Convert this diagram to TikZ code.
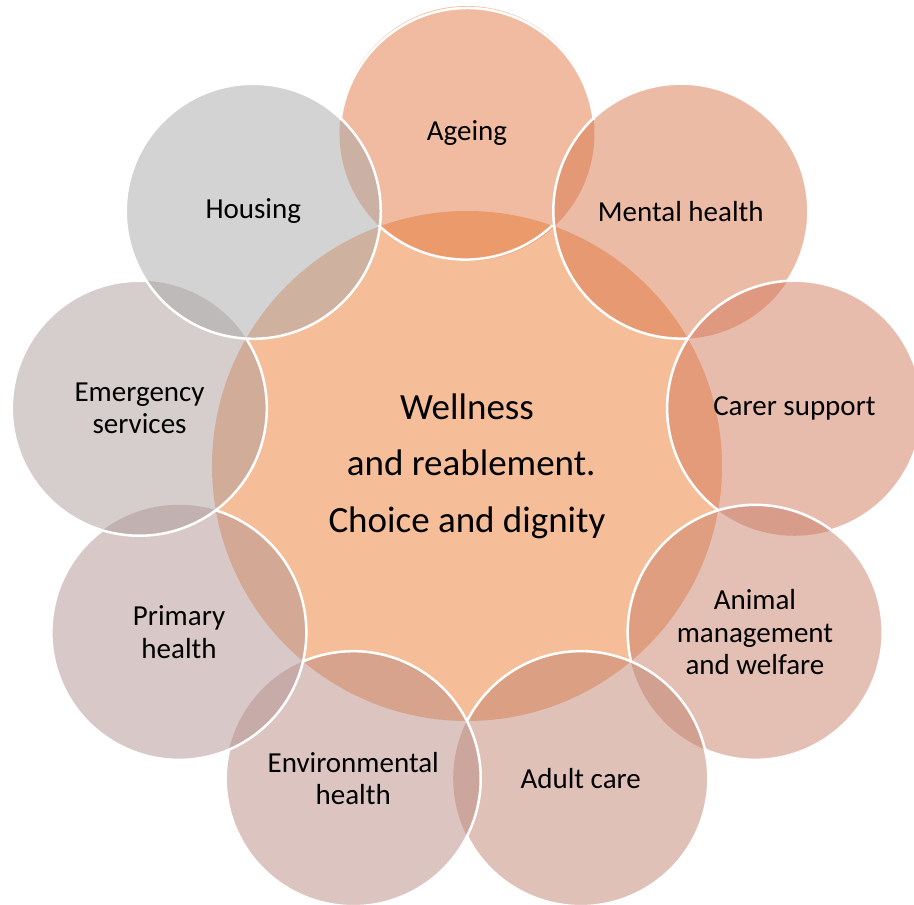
\documentclass[tikz,border=0pt]{standalone}
\usepackage{fontspec}
\setmainfont{Carlito}

\definecolor{hubfill}{RGB}{237,125,49}
\definecolor{petalA}{RGB}{225,119,65}
\definecolor{petalB}{RGB}{217,119,77}
\definecolor{petalC}{RGB}{209,121,91}
\definecolor{petalD}{RGB}{201,127,103}
\definecolor{petalE}{RGB}{193,131,113}
\definecolor{petalF}{RGB}{185,137,129}
\definecolor{petalG}{RGB}{177,147,145}
\definecolor{petalH}{RGB}{173,155,155}
\definecolor{petalI}{RGB}{167,167,167}

\begin{document}
\begin{tikzpicture}
	[
		x=1pt, y=1pt,
		hub/.style={circle, minimum size=510pt, inner sep=0pt, outer sep=0pt, fill=hubfill, fill opacity=0.5, text opacity=1, align=center, font=\fontsize{37}{56.5}\selectfont},
		petal/.style={circle, minimum size=255pt, inner sep=0pt, outer sep=0pt, fill opacity=0.5, text opacity=1, align=center, font=\fontsize{29}{32.5}\selectfont},
		rim/.style={draw=white, line width=2.5pt}
	]

	\useasboundingbox (-467,-439) rectangle (447,466);

	\node (wellness)  at (0,0)        [hub] {Wellness\\ ~and reablement.\\ Choice and dignity};

	\node (ageing)    at (90:332.5)   [petal, fill=petalA] {Ageing};
	\node (mental)    at (50:332.5)   [petal, fill=petalB] {Mental health};
	\node (carer)     at (10:332.5)   [petal, fill=petalC] {Carer support};
	\node (animal)    at (-30:332.5)  [petal, fill=petalD] {Animal\\ management\\ and welfare};
	\node (adult)     at (-70:332.5)  [petal, fill=petalE] {Adult care};
	\node (environ)   at (-110:332.5) [petal, fill=petalF] {Environmental\\ health};
	\node (primary)   at (-150:332.5) [petal, fill=petalG] {Primary\\ health};
	\node (emergency) at (-190:332.5) [petal, fill=petalH] {Emergency\\ services};
	\node (housing)   at (-230:332.5) [petal, fill=petalI] {Housing};

	\draw [rim] (ageing.6.9)
		arc [start angle=6.9, end angle=173.1, radius=127.5];
	\draw [rim] (ageing.226.9)
		arc [start angle=226.9, end angle=313.1, radius=127.5];
	\draw [rim] (mental.-33.1)
		arc [start angle=-33.1, end angle=273.1, radius=127.5];
	\draw [rim] (carer.-73.1)
		arc [start angle=-73.1, end angle=233.1, radius=127.5];
	\draw [rim] (animal.-113.1)
		arc [start angle=-113.1, end angle=193.1, radius=127.5];
	\draw [rim] (adult.-153.1)
		arc [start angle=-153.1, end angle=153.1, radius=127.5];
	\draw [rim] (environ.-193.1)
		arc [start angle=-193.1, end angle=113.1, radius=127.5];
	\draw [rim] (primary.-233.1)
		arc [start angle=-233.1, end angle=73.1, radius=127.5];
	\draw [rim] (emergency.-273.1)
		arc [start angle=-273.1, end angle=33.1, radius=127.5];
	\draw [rim] (housing.center) circle [radius=127.5];
\end{tikzpicture}
\end{document}
